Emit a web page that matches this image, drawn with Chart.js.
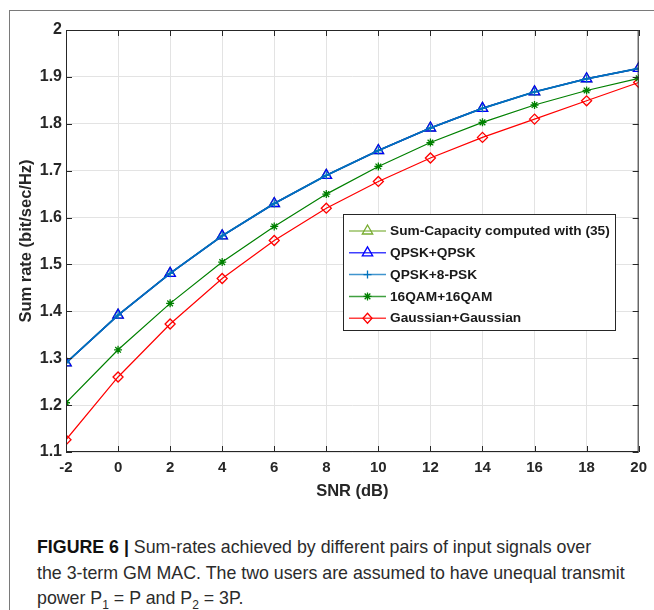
<!DOCTYPE html>
<html lang="en">
<head>
  <meta charset="UTF-8">
  <title>Sum rate vs SNR</title>
  <style>
    html, body {
      margin: 0;
      padding: 0;
      background: #fff;
    }
    body {
      width: 654px;
      height: 610px;
      position: relative;
      overflow: hidden;
      font-family: "Liberation Sans", Arial, sans-serif;
    }
    #frame {
      position: absolute;
      left: 9px;
      top: 10px;
      right: 0;
      bottom: 0;
      border-top: 1.5px solid #7a7a7a;
      border-left: 1.5px solid #7a7a7a;
    }
    #wrap {
      position: absolute;
      left: 0;
      top: 0;
      width: 654px;
      height: 510px;
    }
    #caption {
      position: absolute;
      left: 37px;
      top: 535px;
      font-size: 17.8px;
      line-height: 25.5px;
      color: #2b2b2b;
      white-space: nowrap;
    }
    #caption b {
      font-weight: bold;
      color: #111;
    }
    #caption sub {
      font-size: 12px;
      line-height: 0;
    }
  </style>
</head>
<body>
  <div id="frame"></div>
  <div id="wrap"><canvas id="chart" width="654" height="510"></canvas></div>
  <div id="caption">
    <div><b>FIGURE 6 |</b> Sum-rates achieved by different pairs of input signals over</div>
    <div>the 3-term GM MAC. The two users are assumed to have unequal transmit</div>
    <div>power P<sub>1</sub> = P and P<sub>2</sub> = 3P.</div>
  </div>

  <script src="https://cdn.jsdelivr.net/npm/chart.js"></script>
  <script>
    // SNR in dB
    const snr = [-2, 0, 2, 4, 6, 8, 10, 12, 14, 16, 18, 20];

    // sum rates (bit/sec/Hz)
    const sumCapacity = [1.290, 1.392, 1.481, 1.561, 1.630, 1.690, 1.743, 1.791, 1.833, 1.868, 1.896, 1.918];
    const qpskQpsk    = [1.290, 1.392, 1.481, 1.561, 1.630, 1.690, 1.743, 1.791, 1.833, 1.868, 1.896, 1.918];
    const qpsk8psk    = [1.290, 1.392, 1.481, 1.561, 1.630, 1.690, 1.743, 1.791, 1.833, 1.868, 1.896, 1.918];
    const qam16       = [1.205, 1.318, 1.417, 1.505, 1.581, 1.650, 1.709, 1.760, 1.803, 1.840, 1.871, 1.897];
    const gaussian    = [1.126, 1.260, 1.373, 1.470, 1.551, 1.620, 1.677, 1.727, 1.771, 1.810, 1.849, 1.888];

    const xTicks = [-2, 0, 2, 4, 6, 8, 10, 12, 14, 16, 18, 20];
    const yTicks = [1.1, 1.2, 1.3, 1.4, 1.5, 1.6, 1.7, 1.8, 1.9, 2];

    const seriesNames = ['Sum-Capacity computed with (35)', 'QPSK+QPSK', 'QPSK+8-PSK', '16QAM+16QAM', 'Gaussian+Gaussian'];

    const axisColor = '#262626';
    const gridColor = '#e3e3e3';
    const fontFamily = '"Liberation Sans", Arial, sans-serif';

    function toPoints(arr) {
      return arr.map((v, i) => ({ x: snr[i], y: v }));
    }

    function makeSet(label, values, color, style, radius, width, order) {
      return {
        label: label,
        data: toPoints(values),
        borderColor: color,
        backgroundColor: color,
        borderWidth: width,
        pointStyle: style,
        pointRadius: radius,
        pointBorderWidth: 1.3,
        pointBorderColor: color,
        pointBackgroundColor: 'rgba(0,0,0,0)',
        tension: 0,
        fill: false,
        order: order
      };
    }

    const legendStyles = [
      { color: '#77AC30', marker: 'triangle' },
      { color: '#0000FF', marker: 'triangle' },
      { color: '#0072BD', marker: 'plus' },
      { color: '#008000', marker: 'star' },
      { color: '#FF0000', marker: 'diamond' }
    ];

    function drawMarker(ctx, kind, x, y, color) {
      ctx.save();
      ctx.strokeStyle = color;
      ctx.lineWidth = 1.3;
      ctx.beginPath();
      if (kind === 'triangle') {
        const r = 6;
        for (let k = 0; k < 3; k++) {
          const a = k * 2 * Math.PI / 3;
          const px = x + Math.sin(a) * r, py = y - Math.cos(a) * r;
          if (k === 0) ctx.moveTo(px, py); else ctx.lineTo(px, py);
        }
        ctx.closePath();
      } else if (kind === 'plus') {
        ctx.moveTo(x - 4, y); ctx.lineTo(x + 4, y);
        ctx.moveTo(x, y - 4); ctx.lineTo(x, y + 4);
      } else if (kind === 'star') {
        const r = 4;
        ctx.moveTo(x - r, y); ctx.lineTo(x + r, y);
        ctx.moveTo(x, y - r); ctx.lineTo(x, y + r);
        const d = r * 0.707;
        ctx.moveTo(x - d, y - d); ctx.lineTo(x + d, y + d);
        ctx.moveTo(x - d, y + d); ctx.lineTo(x + d, y - d);
      } else if (kind === 'diamond') {
        ctx.moveTo(x, y - 5); ctx.lineTo(x + 4.5, y);
        ctx.lineTo(x, y + 5); ctx.lineTo(x - 4.5, y);
        ctx.closePath();
      }
      ctx.stroke();
      ctx.restore();
    }

    // box, inward ticks and the in-plot legend
    const matlabAxes = {
      id: 'matlabAxes',
      afterDatasetsDraw(chart) {
        const ctx = chart.ctx;
        const a = chart.chartArea;
        const xs = chart.scales.x, ys = chart.scales.y;
        ctx.save();
        ctx.strokeStyle = axisColor;
        ctx.lineWidth = 1;
        ctx.strokeRect(a.left + 0.5, a.top + 0.5, a.right - a.left - 1, a.bottom - a.top - 1);
        ctx.beginPath();
        xTicks.forEach(t => {
          const px = Math.round(xs.getPixelForValue(t)) + 0.5;
          ctx.moveTo(px, a.bottom); ctx.lineTo(px, a.bottom - 6);
          ctx.moveTo(px, a.top); ctx.lineTo(px, a.top + 6);
        });
        yTicks.forEach(t => {
          const py = Math.round(ys.getPixelForValue(t)) + 0.5;
          ctx.moveTo(a.left, py); ctx.lineTo(a.left + 6, py);
          ctx.moveTo(a.right, py); ctx.lineTo(a.right - 6, py);
        });
        ctx.stroke();

        // legend
        const lx = 343.5, ly = 214.5, lw = 272, lh = 116;
        ctx.fillStyle = '#fff';
        ctx.fillRect(lx, ly, lw, lh);
        ctx.strokeStyle = axisColor;
        ctx.strokeRect(lx, ly, lw, lh);
        ctx.font = 'bold 13.7px ' + fontFamily;
        ctx.textBaseline = 'middle';
        seriesNames.forEach((name, i) => {
          const y = 231 + i * 21.8;
          const st = legendStyles[i];
          ctx.strokeStyle = st.color;
          ctx.globalAlpha = 0.75;
          ctx.lineWidth = 1.5;
          ctx.beginPath();
          ctx.moveTo(349, y); ctx.lineTo(386, y);
          ctx.stroke();
          ctx.globalAlpha = 1;
          drawMarker(ctx, st.marker, 367.5, y, st.color);
          ctx.fillStyle = '#1a1a1a';
          ctx.fillText(name, 390, y + 0.5);
        });
        ctx.restore();
      }
    };

    new Chart(document.getElementById('chart'), {
      type: 'line',
      data: {
        datasets: [
          makeSet(seriesNames[0], sumCapacity, '#77AC30', 'triangle', 6, 1.5, 4),
          makeSet(seriesNames[1], qpskQpsk, '#0000FF', 'triangle', 6, 1.5, 3),
          makeSet(seriesNames[2], qpsk8psk, '#0072BD', 'cross', 4, 1.8, 1),
          makeSet(seriesNames[3], qam16, '#008000', 'star', 4, 1.2, 2),
          makeSet(seriesNames[4], gaussian, '#FF0000', 'rectRot', 5, 1.2, 2)
        ]
      },
      options: {
        responsive: false,
        animation: false,
        events: [],
        layout: { padding: { left: 0, right: 13, top: 30, bottom: 0 } },
        plugins: {
          legend: { display: false },
          tooltip: { enabled: false }
        },
        scales: {
          x: {
            type: 'linear',
            min: -2,
            max: 20,
            afterBuildTicks: s => { s.ticks = xTicks.map(v => ({ value: v })); },
            afterFit: s => { s.height = 58; },
            grid: { color: gridColor, drawTicks: false, lineWidth: 1 },
            border: { display: false },
            ticks: { color: axisColor, font: { family: fontFamily, size: 15, weight: 'bold' }, padding: 7, maxRotation: 0 },
            title: {
              display: true,
              text: 'SNR (dB)',
              color: axisColor,
              font: { family: fontFamily, size: 16.5, weight: 'bold' },
              padding: { top: 0, bottom: 9 }
            }
          },
          y: {
            min: 1.1,
            max: 2,
            afterBuildTicks: s => { s.ticks = yTicks.map(v => ({ value: v })); },
            afterFit: s => { s.width = 66; },
            grid: { color: gridColor, drawTicks: false, lineWidth: 1 },
            border: { display: false },
            ticks: {
              color: axisColor,
              font: { family: fontFamily, size: 16, weight: 'bold' },
              padding: 4,
              callback: v => String(Number(v.toFixed(1)))
            },
            title: {
              display: true,
              text: 'Sum rate (bit/sec/Hz)',
              color: axisColor,
              font: { family: fontFamily, size: 16.5, weight: 'bold' },
              padding: { top: 17, bottom: 0 }
            }
          }
        }
      },
      plugins: [matlabAxes]
    });
  </script>
</body>
</html>
